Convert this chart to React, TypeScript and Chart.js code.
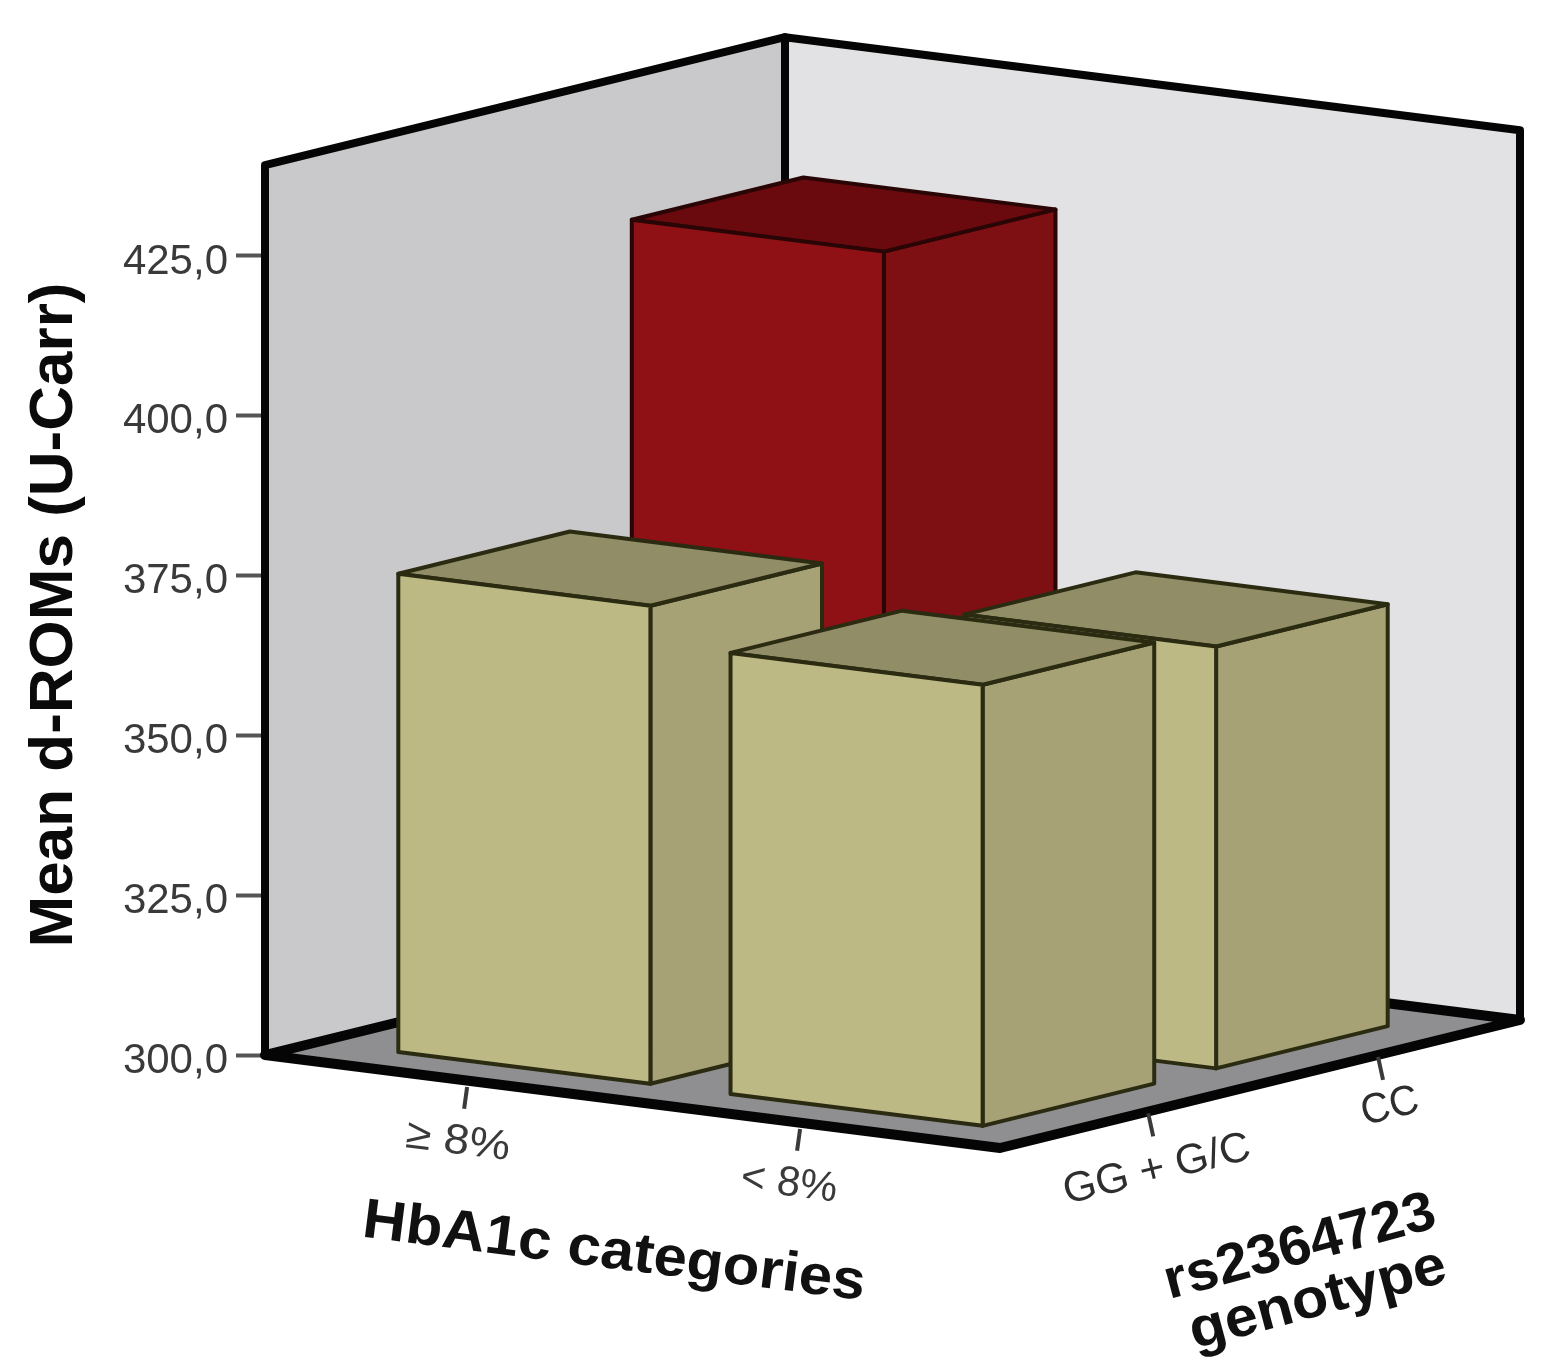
import React, { useEffect, useRef } from "react";
import { Chart, registerables } from "chart.js";

Chart.register(...registerables);

const hba1cCategories = ["≥ 8%", "< 8%"];
const genotypeCategories = ["GG + G/C", "CC"];
const ggValues = [374.8, 369];
const ccValues = [421.2, 366];
const yTicks = [300, 325, 350, 375, 400, 425];
const yTitle = "Mean d-ROMs (U-Carr)";
const xTitle = "HbA1c categories";
const zTitle = ["rs2364723", "genotype"];

const barCentersA = [0.28, 0.732];
const barCentersD = [0.268, 0.717];
const tickCentersA = [0.275, 0.728];
const tickCentersD = [0.285, 0.727];

const BASE = 300;
const WALL_TOP = 439.2;
const PX_PER_UNIT = 6.392;
const A_VEC = { x: 735, y: 93 };
const D_VEC = { x: 520, y: -128 };

type Pt = { x: number; y: number };
const project = (a: number, d: number, v: number): Pt => ({
  x: a * A_VEC.x + d * D_VEC.x,
  y: v - (a * A_VEC.y + d * D_VEC.y) / PX_PER_UNIT,
});

const poly = (pts: Pt[], fill: string, border: string, width: number) => ({
  data: [...pts, pts[0], pts[1]],
  showLine: true,
  fill: "shape",
  backgroundColor: fill,
  borderColor: border,
  borderWidth: width,
  borderJoinStyle: "round",
  borderCapStyle: "round",
  pointRadius: 0,
  pointHoverRadius: 0,
  tension: 0,
  clip: false,
});

const segment = (pts: Pt[], color: string, width: number) => ({
  data: pts,
  showLine: true,
  fill: false,
  borderColor: color,
  borderWidth: width,
  pointRadius: 0,
  pointHoverRadius: 0,
  tension: 0,
  clip: false,
});

const khaki = { front: "#bdb985", side: "#a6a276", top: "#908d67", edge: "#2b2b12" };
const red = { front: "#8f1116", side: "#7e1014", top: "#6a0a0e", edge: "#2a0506" };

const bar = (ai: number, di: number, value: number, c: typeof khaki) => {
  const a0 = barCentersA[ai] - 0.1715;
  const a1 = barCentersA[ai] + 0.1715;
  const d0 = barCentersD[di] - 0.165;
  const d1 = barCentersD[di] + 0.165;
  return [
    poly(
      [project(a1, d0, BASE), project(a1, d1, BASE), project(a1, d1, value), project(a1, d0, value)],
      c.side, c.edge, 4
    ),
    poly(
      [project(a0, d0, value), project(a1, d0, value), project(a1, d1, value), project(a0, d1, value)],
      c.top, c.edge, 4
    ),
    poly(
      [project(a0, d0, BASE), project(a1, d0, BASE), project(a1, d0, value), project(a0, d0, value)],
      c.front, c.edge, 4
    ),
  ];
};

const buildDatasets = () => {
  const frame = "#050505";
  const painted: any[] = [
    poly(
      [project(0, 0, BASE), project(0, 0, WALL_TOP), project(0, 1, WALL_TOP), project(0, 1, BASE)],
      "#c9c9cc", frame, 8
    ),
    poly(
      [project(0, 1, BASE), project(0, 1, WALL_TOP), project(1, 1, WALL_TOP), project(1, 1, BASE)],
      "#e2e2e4", frame, 8
    ),
    poly(
      [project(0, 0, BASE), project(1, 0, BASE), project(1, 1, BASE), project(0, 1, BASE)],
      "#8f8f92", frame, 10
    ),
    ...bar(0, 1, ccValues[0], red),
    ...bar(1, 1, ccValues[1], khaki),
    ...bar(0, 0, ggValues[0], khaki),
    ...bar(1, 0, ggValues[1], khaki),
  ];
  tickCentersA.forEach((a) => {
    const p = project(a, 0, BASE);
    painted.push(segment([{ x: p.x, y: p.y - 1 }, { x: p.x - 3, y: p.y - 4.4 }], "#3a3a3a", 4));
  });
  tickCentersD.forEach((d) => {
    const p = project(1, d, BASE);
    painted.push(segment([{ x: p.x, y: p.y - 0.3 }, { x: p.x + 5, y: p.y - 3.9 }], "#3a3a3a", 4));
  });
  return painted.map((ds, i) => ({ ...ds, order: painted.length - i }));
};

const skewedLabels = {
  id: "skewedLabels",
  afterDraw(chart: any) {
    const { ctx } = chart;
    const put = (text: string, x: number, y: number, deg: number, sx: number, font: string, color: string) => {
      ctx.save();
      ctx.translate(x, y);
      ctx.rotate((deg * Math.PI) / 180);
      ctx.scale(sx, 1);
      ctx.font = font;
      ctx.fillStyle = color;
      ctx.textAlign = "center";
      ctx.textBaseline = "middle";
      ctx.fillText(text, 0, 0);
      ctx.restore();
    };
    const tickFont = '42px "Liberation Sans"';
    const titleFont = 'bold 56px "Liberation Sans"';
    put(hba1cCategories[0], 458, 1142, 7.2, 1.1, tickFont, "#3a3a3a");
    put(hba1cCategories[1], 789, 1184, 7.2, 1.0, tickFont, "#3a3a3a");
    put(genotypeCategories[0], 1157, 1170, -13.8, 1.02, tickFont, "#2e2e2e");
    put(genotypeCategories[1], 1390, 1107, -13.8, 0.96, tickFont, "#2e2e2e");
    put(xTitle, 614, 1253, 7.2, 1.07, titleFont, "#111111");
    put(zTitle[0], 1300, 1248, -15, 1.03, titleFont, "#111111");
    put(zTitle[1], 1318, 1300, -15, 1.06, titleFont, "#111111");
  },
};

export default function App() {
  const ref = useRef<HTMLCanvasElement>(null);
  useEffect(() => {
    const bottomGap = 136;
    const top = 1055 / PX_PER_UNIT + BASE;
    const bottom = BASE - (1366 - bottomGap - 1055) / PX_PER_UNIT;
    const chart = new Chart(ref.current as HTMLCanvasElement, {
      type: "scatter",
      data: { datasets: buildDatasets() as any },
      plugins: [skewedLabels],
      options: {
        animation: false,
        responsive: false,
        layout: { padding: { left: 0, right: 0, top: 0, bottom: bottomGap } },
        plugins: { legend: { display: false }, tooltip: { enabled: false } },
        events: [],
        scales: {
          x: { type: "linear", display: false, min: 0, max: 1290 },
          y: {
            type: "linear",
            min: bottom,
            max: top,
            afterBuildTicks: (scale: any) => {
              scale.ticks = yTicks.map((value) => ({ value }));
            },
            afterFit: (scale: any) => {
              scale.width = 265;
              scale.paddingTop = 0;
              scale.paddingBottom = 0;
            },
            border: { display: false },
            grid: {
              drawOnChartArea: false,
              drawTicks: true,
              tickLength: 29,
              tickWidth: 4,
              tickColor: "#555555",
            },
            ticks: {
              autoSkip: false,
              padding: 8,
              labelOffset: 6,
              color: "#3a3a3a",
              font: { family: '"Liberation Sans"', size: 42 },
              callback: (v: any) => Number(v).toFixed(1).replace(".", ","),
            },
            title: {
              display: true,
              text: yTitle,
              color: "#0a0a0a",
              font: { family: '"Liberation Sans"', size: 62, weight: "bold" },
              padding: { top: 18, bottom: 0 },
            },
          },
        },
      } as any,
    });
    return () => chart.destroy();
  }, []);
  return (
    <div style={{ position: "absolute", left: 0, top: 0, width: 1555, height: 1366, background: "#fff" }}>
      <canvas ref={ref} width={1555} height={1366} style={{ display: "block", filter: "blur(0.7px)" }} />
    </div>
  );
}
